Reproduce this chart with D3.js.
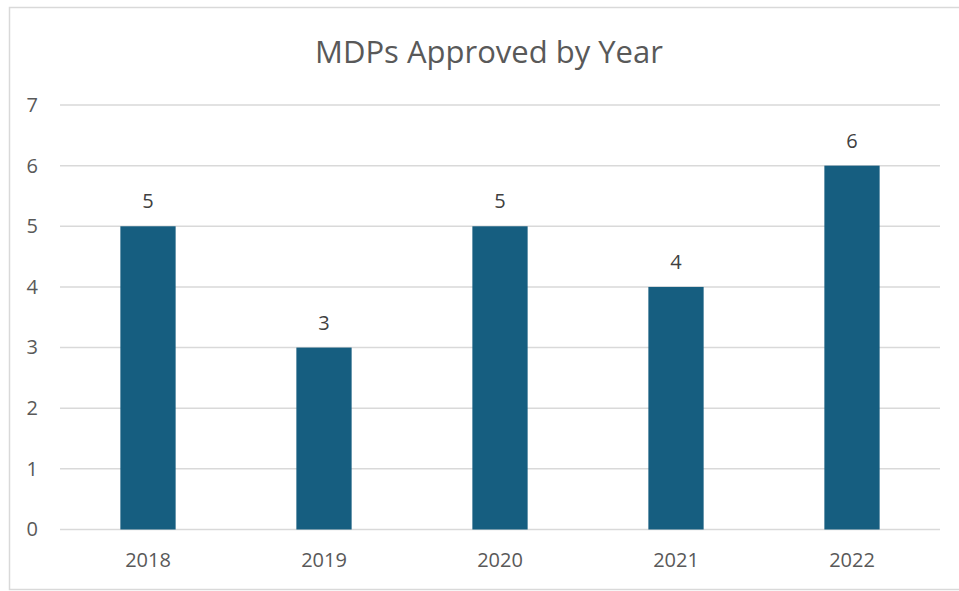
<!DOCTYPE html>
<html>
<head>
<meta charset="utf-8">
<script src="https://cdn.jsdelivr.net/npm/d3@7"></script>
<style>
  body { margin: 0; background: #fff; }
</style>
</head>
<body>
<div id="chart"></div>
<script>
// chart values
const years = ["2018", "2019", "2020", "2021", "2022"]
const approved = [5, 3, 5, 4, 6]
const yTicks = [0, 1, 2, 3, 4, 5, 6, 7]
const title = "MDPs Approved by Year"

const width = 959, height = 591
const margin = {top: 105, right: 19, bottom: 61, left: 60}
const font = "'Open Sans', sans-serif"
const textColor = "#595959"

const svg = d3.select("#chart")
  .append("svg")
    .attr("width", width)
    .attr("height", height)
    .attr("font-family", font)

// outer chart border
svg.append("rect")
    .attr("x", 9.5)
    .attr("y", 7.5)
    .attr("width", width)
    .attr("height", 582)
    .attr("fill", "#fff")
    .attr("stroke", "#d9d9d9")
    .attr("stroke-width", 1.5)

const x = d3.scaleBand()
    .domain(years)
    .range([margin.left, width - margin.right])
    .paddingInner(0.686)
    .paddingOuter(0.343)

const y = d3.scaleLinear()
    .domain([0, 7])
    .range([height - margin.bottom - 0.5, margin.top])

// gridlines
svg.append("g")
  .selectAll("line")
  .data(yTicks)
  .join("line")
    .attr("x1", margin.left)
    .attr("x2", width - margin.right)
    .attr("y1", d => y(d))
    .attr("y2", d => y(d))
    .attr("stroke", "#d9d9d9")
    .attr("stroke-width", 1.5)

// y axis labels
const yAxis = svg.append("g")
    .attr("transform", `translate(${margin.left - 22},0)`)
    .call(d3.axisLeft(y).tickValues(yTicks).tickFormat(d3.format("d")).tickSize(0).tickPadding(0))
yAxis.select(".domain").remove()
yAxis.selectAll("text")
    .attr("fill", textColor)
    .attr("font-size", 20)
    .attr("font-family", font)

// x axis labels
const xAxis = svg.append("g")
    .attr("transform", `translate(0,${y(0)})`)
    .call(d3.axisBottom(x).tickSize(0).tickPadding(23))
xAxis.select(".domain").remove()
xAxis.selectAll("text")
    .attr("fill", textColor)
    .attr("font-size", 20)
    .attr("font-family", font)

// bars
svg.append("g")
  .selectAll("rect")
  .data(years)
  .join("rect")
    .attr("x", d => x(d))
    .attr("y", (d, i) => y(approved[i]))
    .attr("width", x.bandwidth())
    .attr("height", (d, i) => y(0) - y(approved[i]))
    .attr("fill", "#165e80")

// value labels
svg.append("g")
  .selectAll("text")
  .data(years)
  .join("text")
    .attr("x", d => x(d) + x.bandwidth() / 2)
    .attr("y", (d, i) => y(approved[i]) - 18)
    .attr("text-anchor", "middle")
    .attr("fill", "#404040")
    .attr("font-size", 20)
    .text((d, i) => approved[i])

// title
svg.append("text")
    .attr("x", 489)
    .attr("y", 63)
    .attr("text-anchor", "middle")
    .attr("fill", textColor)
    .attr("font-size", 31)
    .text(title)
</script>
</body>
</html>
